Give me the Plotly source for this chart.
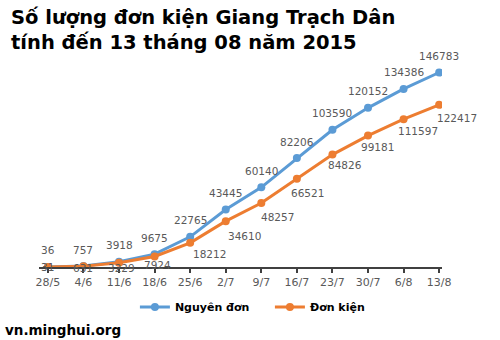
import plotly.graph_objects as go

categories = ["28/5", "4/6", "11/6", "18/6", "25/6", "2/7", "9/7", "16/7", "23/7", "30/7", "6/8", "13/8"]
nguyen_don = [36, 757, 3918, 9675, 22765, 43445, 60140, 82206, 103590, 120152, 134386, 146783]
don_kien = [31, 631, 3229, 7924, 18212, 34610, 48257, 66521, 84826, 99181, 111597, 122417]

# label offsets (pixels) for the orange series, style only
orange_dx = [0, 0, 2, 3, 19, 19, 16, 11, 13, 9, 14, 18]
orange_dy = [0, 2, 5, 8, 11, 15, 14, 14, 10, 11, 12, 13]

BLUE = "#5B9BD5"
ORANGE = "#ED7D31"
GRAY = "#595959"
FONT = "DejaVu Sans"

fig = go.Figure()
fig.add_trace(go.Scatter(x=categories, y=nguyen_don, name="Nguyên đơn", mode="lines+markers",
                         line=dict(color=BLUE, width=3), marker=dict(color=BLUE, size=8)))
fig.add_trace(go.Scatter(x=categories, y=don_kien, name="Đơn kiện", mode="lines+markers",
                         line=dict(color=ORANGE, width=3), marker=dict(color=ORANGE, size=8)))

ann = []
for c, v in zip(categories, nguyen_don):
    ann.append(dict(x=c, y=v, text=str(v), showarrow=False, yshift=16.5,
                    font=dict(family=FONT, size=10.5, color=GRAY)))
for c, v, dx, dy in zip(categories, don_kien, orange_dx, orange_dy):
    ann.append(dict(x=c, y=v, text=str(v), showarrow=False, xshift=dx, yshift=-dy,
                    font=dict(family=FONT, size=10.5, color=GRAY)))
ann.append(dict(xref="paper", yref="paper", x=-0.0894, y=-0.2955, xanchor="left", yanchor="middle",
                text="<b>vn.minghui.org</b>", showarrow=False,
                font=dict(family=FONT, size=13.5, color="black")))
ann.append(dict(xref="paper", yref="paper", x=-0.0745, y=1.24, xanchor="left", yanchor="top",
                align="left", showarrow=False,
                text="<b>Số lượng đơn kiện Giang Trạch Dân<br>tính đến 13 tháng 08 năm 2015</b>",
                font=dict(family=FONT, size=19.5, color="black")))

fig.update_layout(
    width=500, height=340,
    margin=dict(l=39, r=58, t=55, b=73),
    paper_bgcolor="white", plot_bgcolor="white",
    xaxis=dict(type="category", range=[-0.25, 11.08], showgrid=False, zeroline=False,
               showline=True, linecolor="#404040", linewidth=1.5,
               ticks="outside", ticklen=4, tickcolor="#404040", tickwidth=1.5,
               tickfont=dict(family=FONT, size=11, color=GRAY)),
    yaxis=dict(range=[0, 160000], visible=False),
    legend=dict(orientation="h", x=0.238, xanchor="left", y=-0.12, yanchor="top",
                font=dict(family=FONT, size=11, color="black", weight="bold"),
                entrywidth=90, bgcolor="rgba(0,0,0,0)"),
    annotations=ann,
)

fig.write_html("out.html")
